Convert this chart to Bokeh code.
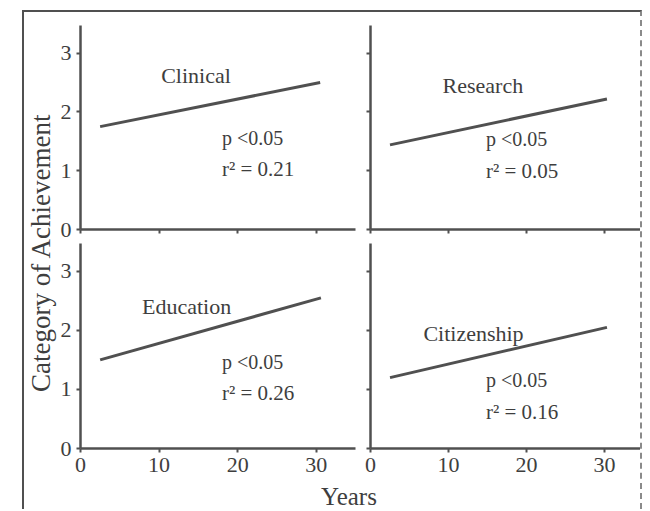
import math
from bokeh.plotting import figure
from bokeh.layouts import row, column
from bokeh.models import Label, FixedTicker, Range1d
from bokeh.core.properties import value
from bokeh.embed import file_html
from bokeh.resources import INLINE

# ---- data ----
panels = ["Clinical", "Research", "Education", "Citizenship"]
start_year = [2.5, 2.5, 2.5, 2.5]
end_year = [30.5, 30.3, 30.6, 30.3]
start_value = [1.75, 1.44, 1.50, 1.20]
end_value = [2.50, 2.22, 2.55, 2.05]
p_texts = ["p <0.05", "p <0.05", "p <0.05", "p <0.05"]
r2_values = [0.21, 0.05, 0.26, 0.16]
x_ticks = [0, 10, 20, 30]
y_ticks = [0, 1, 2, 3]
x_title = "Years"
y_title = "Category of Achievement"

# ---- layout (annotation placement in data coords) ----
name_pos = [(14.7, 2.62), (14.4, 2.45), (13.5, 2.40), (13.2, 1.94)]
stat_pos = [(18.0, 1.56, 1.03), (14.8, 1.54, 1.00), (18.0, 1.47, 0.94), (14.8, 1.16, 0.61)]

FONT = "Liberation Serif"
INK = "#3e3e3e"
LINE = "#505050"


def style_axis(ax, ticks, show_labels):
    ax.ticker = FixedTicker(ticks=ticks)
    ax.axis_line_color = LINE
    ax.axis_line_width = 2.5
    ax.major_tick_line_color = LINE
    ax.major_tick_line_width = 2
    ax.major_tick_out = 4
    ax.major_tick_in = 0
    ax.minor_tick_line_color = None
    ax.major_label_text_font = FONT
    ax.major_label_text_color = INK
    if show_labels:
        ax.major_label_text_font_size = "22px"
        ax.major_label_standoff = 5
    else:
        ax.major_label_overrides = {t: "" for t in ticks}
        ax.major_label_text_font_size = "1px"
        ax.major_label_standoff = 0


def make_panel(i, left_col, top_row):
    fw = 275 if left_col else 270
    fh = 204 if top_row else 205
    xmax = 35.0 if left_col else 34.6
    p = figure(
        title=None,
        frame_width=fw, frame_height=fh,
        x_range=Range1d(0, xmax), y_range=Range1d(0, 3.47),
        output_backend="svg", toolbar_location=None,
        min_border_left=23 if left_col else 10,
        min_border_right=5 if left_col else 0,
        min_border_top=13 if top_row else 2,
        min_border_bottom=12 if top_row else 35,
    )
    p.outline_line_color = None
    p.grid.visible = False
    style_axis(p.xaxis[0], x_ticks, not top_row)
    style_axis(p.yaxis[0], y_ticks, left_col)

    p.line([start_year[i], end_year[i]], [start_value[i], end_value[i]],
           line_width=3, line_color=LINE)

    nx, ny = name_pos[i]
    p.text(x=[nx], y=[ny], text=[panels[i]], text_font=value(FONT),
           text_font_size="22px", text_color=INK, text_align="center",
           text_baseline="middle")
    sx, py, ry = stat_pos[i]
    p.text(x=[sx], y=[py], text=[p_texts[i]], text_font=value(FONT),
           text_font_size="20px", text_color=INK, text_align="left",
           text_baseline="middle")
    p.text(x=[sx], y=[ry], text=["r\u00b2 = %.2f" % r2_values[i]],
           text_font=value(FONT), text_font_size="21px", text_color=INK,
           text_align="left", text_baseline="middle")
    return p


tl = make_panel(0, True, True)
tr = make_panel(1, False, True)
bl = make_panel(2, True, False)
br = make_panel(3, False, False)

YH = 497
# y-axis title column
ylab = figure(title=None, width=33, height=YH, x_axis_type=None, y_axis_type=None,
              output_backend="svg", toolbar_location=None, min_border=0,
              x_range=Range1d(0, 1), y_range=Range1d(0, 1))
ylab.outline_line_color = None
ylab.grid.visible = False
ylab.add_layout(Label(x=16, y=YH - 240, x_units="screen", y_units="screen",
                      text=y_title, angle=math.pi / 2, text_align="center",
                      text_baseline="middle", text_font=FONT,
                      text_font_size="27px", text_color=INK))

# x-axis title row
xlab = figure(title=None, width=583, height=26, x_axis_type=None, y_axis_type=None,
              output_backend="svg", toolbar_location=None, min_border=0,
              x_range=Range1d(0, 1), y_range=Range1d(0, 1))
xlab.outline_line_color = None
xlab.grid.visible = False
xlab.add_layout(Label(x=0.5, y=0.5, text=x_title, text_align="center",
                      text_baseline="middle", text_font=FONT,
                      text_font_size="25px", text_color=INK))

grid = column(row(tl, tr), row(bl, br), xlab)
outer = row(ylab, grid,
            styles={"border-top": "2px solid #505050",
                    "border-left": "2px solid #505050",
                    "border-right": "2px dashed #8a8a8a"},
            margin=(10, 0, 0, 22))

open("out.html", "w").write(file_html(outer, INLINE))
